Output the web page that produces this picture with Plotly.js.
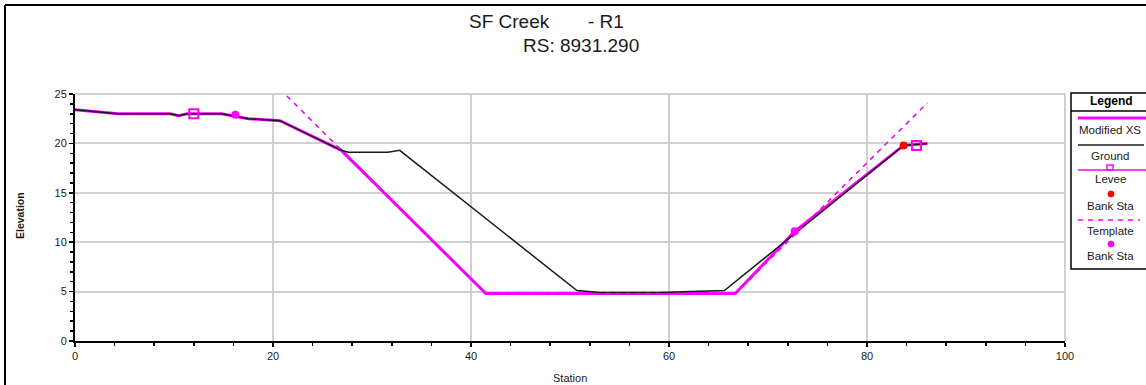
<!DOCTYPE html>
<html>
<head>
<meta charset="utf-8">
<script src="https://cdn.plot.ly/plotly-3.0.1.min.js"></script>
<style>html,body{margin:0;padding:0;background:#fff;}#chart{width:1146px;height:385px;}</style>
</head>
<body>
<div id="chart"></div>
<script>
// ---- data ----
const groundStation = [0, 2.5, 4.3, 9.6, 10.5, 11.3, 14.8, 17.5, 20.7, 26.9, 27.6, 31.6, 32.8, 50.7, 53.0, 59.0, 62.0, 65.6, 83.7, 86.1];
const groundElev    = [23.4, 23.2, 23.0, 23.0, 22.8, 23.0, 23.0, 22.5, 22.3, 19.3, 19.1, 19.1, 19.3, 5.1, 4.9, 4.9, 5.0, 5.1, 19.8, 20.0];

const modStation = [0, 2.5, 4.3, 9.6, 10.5, 11.3, 14.8, 17.5, 20.7, 26.9, 41.5, 66.7, 72.7, 83.7, 86.1];
const modElev    = [23.4, 23.2, 23.0, 23.0, 22.8, 23.0, 23.0, 22.5, 22.3, 19.3, 4.8, 4.8, 11.1, 19.8, 20.0];

const templateStation = [21.4, 41.5, 66.7, 86.1];
const templateElev    = [24.8, 4.8, 4.8, 24.1];

const leveeStation = [12.0, 85.0];
const leveeElev    = [23.0, 19.8];

const bankStation = [83.7];
const bankElev    = [19.8];

const tplBankStation = [16.2, 72.7];
const tplBankElev    = [22.9, 11.1];

const xTicks = [0, 20, 40, 60, 80, 100];
const yTicks = [0, 5, 10, 15, 20, 25];

const titleLine1a = "SF Creek";
const titleLine1b = "- R1";
const titleLine2 = "RS: 8931.290";
const legendTitle = "Legend";
const legendNames = ["Modified XS", "Ground", "Levee", "Bank Sta", "Template", "Bank Sta"];

// ---- layout helpers (pixel -> paper) ----
const W = 1146, H = 385;
const M = {l: 75, r: 81, t: 94, b: 44};
const PW = W - M.l - M.r, PH = H - M.t - M.b;
const px = x => (x - M.l) / PW;
const py = y => (H - M.b - y) / PH;

const MAG = '#ff00ff';
const FONT = 'Liberation Sans, Arial, sans-serif';

const traces = [
  {x: modStation, y: modElev, mode: 'lines', name: 'Modified XS',
   line: {color: MAG, width: 3}},
  {x: groundStation, y: groundElev, mode: 'lines', name: 'Ground',
   line: {color: '#1a1a1a', width: 1.5}},
  {x: templateStation, y: templateElev, mode: 'lines', name: 'Template',
   line: {color: '#e600e6', width: 1.5, dash: '5px,5px'}},
  {x: leveeStation, y: leveeElev, mode: 'markers', name: 'Levee',
   marker: {symbol: 'square-open', size: 9, color: MAG, line: {width: 2, color: MAG}}},
  {x: bankStation, y: bankElev, mode: 'markers', name: 'Bank Sta',
   marker: {symbol: 'circle', size: 8, color: '#ff0000'}},
  {x: tplBankStation, y: tplBankElev, mode: 'markers', name: 'Template Bank Sta',
   marker: {symbol: 'circle', size: 8, color: MAG}}
];

const annotations = [
  {text: titleLine1a, x: px(467), y: py(22), xanchor: 'left', yanchor: 'middle'},
  {text: titleLine1b, x: px(626), y: py(22), xanchor: 'right', yanchor: 'middle'},
  {text: titleLine2, x: px(521), y: py(46), xanchor: 'left', yanchor: 'middle'},
].map(a => Object.assign(a, {xref: 'paper', yref: 'paper', showarrow: false,
  font: {family: FONT, size: 19, color: '#1a1a1a'}}));

annotations.push({text: '<b>Elevation</b>', x: px(20), y: py(216), xref: 'paper', yref: 'paper',
  showarrow: false, textangle: -90, xanchor: 'center', yanchor: 'middle',
  font: {family: FONT, size: 10.5, color: '#1a1a1a'}});
annotations.push({text: 'Station', x: px(570), y: py(378), xref: 'paper', yref: 'paper',
  showarrow: false, xanchor: 'center', yanchor: 'middle',
  font: {family: FONT, size: 11, color: '#1a1a1a'}});

// legend texts
annotations.push({text: '<b>' + legendTitle + '</b>', x: px(1111), y: py(101), xref: 'paper', yref: 'paper',
  showarrow: false, xanchor: 'center', yanchor: 'middle', font: {family: FONT, size: 12, color: '#000'}});
const legTextY = [130, 156, 179, 206, 231, 256];
legendNames.forEach((n, i) => annotations.push({text: n, x: px(1110), y: py(legTextY[i]),
  xref: 'paper', yref: 'paper', showarrow: false, xanchor: 'center', yanchor: 'middle',
  font: {family: FONT, size: 11.5, color: '#1a1a1a'}}));

const shapes = [
  // outer frame
  {type: 'line', x0: px(5), x1: px(1146), y0: py(5), y1: py(5), line: {color: '#000', width: 2}},
  {type: 'line', x0: px(5), x1: px(5), y0: py(5), y1: py(385), line: {color: '#000', width: 2}},
  // plot top / right border (gray)
  {type: 'line', x0: px(75), x1: px(1065), y0: py(94), y1: py(94), line: {color: '#d0d0d0', width: 2}},
  {type: 'line', x0: px(1065), x1: px(1065), y0: py(94), y1: py(341), line: {color: '#d0d0d0', width: 2}},
  // legend box
  {type: 'rect', x0: px(1071), x1: px(1150), y0: py(93), y1: py(269), line: {color: '#000', width: 1.5}},
  {type: 'line', x0: px(1071), x1: px(1150), y0: py(111), y1: py(111), line: {color: '#000', width: 1.5}},
  // legend symbols
  {type: 'line', x0: px(1078), x1: px(1146), y0: py(118), y1: py(118), line: {color: MAG, width: 3}},
  {type: 'line', x0: px(1078), x1: px(1144), y0: py(145), y1: py(145), line: {color: '#1a1a1a', width: 1.5}},
  {type: 'line', x0: px(1078), x1: px(1146), y0: py(170), y1: py(170), line: {color: MAG, width: 1.5}},
  {type: 'rect', x0: px(1107), x1: px(1113), y0: py(165), y1: py(170), line: {color: MAG, width: 1.5}},
  {type: 'circle', x0: px(1108), x1: px(1114), y0: py(191), y1: py(197), fillcolor: '#ff0000', line: {color: '#ff0000', width: 1}},
  {type: 'line', x0: px(1078), x1: px(1140), y0: py(220), y1: py(220), line: {color: MAG, width: 1.5, dash: '5px,5px'}},
  {type: 'circle', x0: px(1108), x1: px(1114), y0: py(241), y1: py(247), fillcolor: MAG, line: {color: MAG, width: 1}}
].map(s => Object.assign(s, {xref: 'paper', yref: 'paper', layer: 'above'}));

const axisCommon = {
  showline: true, linecolor: '#000', linewidth: 2,
  ticks: 'outside', ticklen: 4, tickcolor: '#000', tickwidth: 1.5,
  showgrid: true, gridcolor: '#d0d0d0', gridwidth: 2,
  zeroline: false,
  tickfont: {family: FONT, size: 11, color: '#1a1a1a'},
  fixedrange: true
};

const layout = {
  width: W, height: H,
  margin: M,
  paper_bgcolor: '#fff', plot_bgcolor: '#fff',
  showlegend: false,
  xaxis: Object.assign({}, axisCommon, {
    range: [0, 100], tickmode: 'array', tickvals: xTicks, ticktext: xTicks.map(String),
    minor: {ticks: 'outside', dtick: 4, ticklen: 3, tickcolor: '#000', showgrid: false}
  }),
  yaxis: Object.assign({}, axisCommon, {
    range: [0, 25], tickmode: 'array', tickvals: yTicks, ticktext: yTicks.map(String),
    minor: {ticks: 'outside', dtick: 1, ticklen: 3, tickcolor: '#000', showgrid: false}
  }),
  annotations: annotations,
  shapes: shapes
};

Plotly.newPlot('chart', traces, layout, {displayModeBar: false, staticPlot: true});
</script>
</body>
</html>
